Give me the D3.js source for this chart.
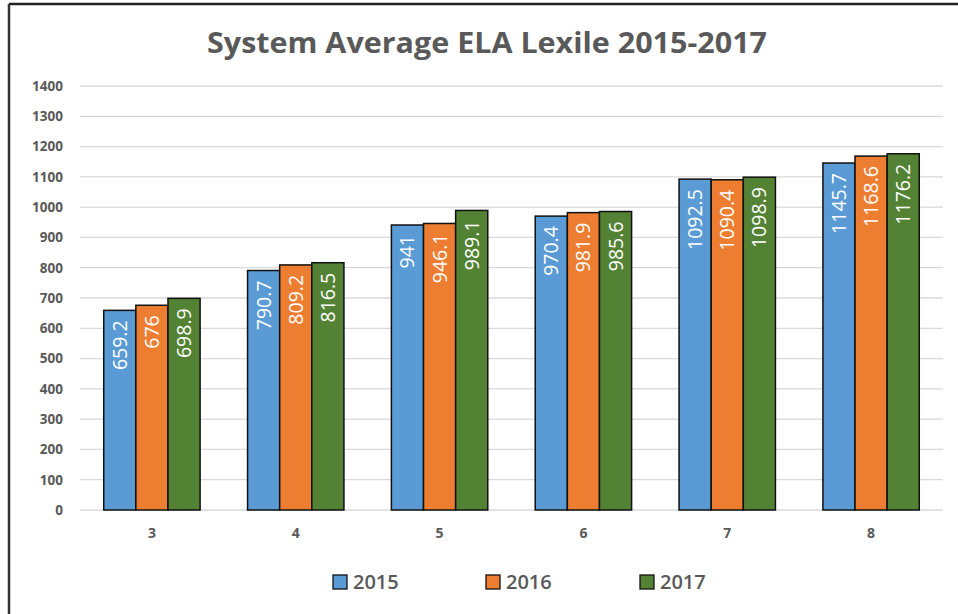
<!DOCTYPE html>
<html>
<head>
<meta charset="utf-8">
<script src="https://cdn.jsdelivr.net/npm/d3@7"></script>
<style>
  body { margin: 0; background: #fff; }
  svg { display: block; }
</style>
</head>
<body>
<svg id="chart"></svg>
<script>
// grades on the x axis
var grades = ['3', '4', '5', '6', '7', '8'];
var years = ['2015', '2016', '2017'];
var values2015 = [659.2, 790.7, 941, 970.4, 1092.5, 1145.7];
var values2016 = [676, 809.2, 946.1, 981.9, 1090.4, 1168.6];
var values2017 = [698.9, 816.5, 989.1, 985.6, 1098.9, 1176.2];
var yTicks = [0, 100, 200, 300, 400, 500, 600, 700, 800, 900, 1000, 1100, 1200, 1300, 1400];
var colors = ['#5B9BD5', '#ED7D31', '#548235'];

var width = 958, height = 614;
var margin = { top: 86, right: 15, bottom: 104, left: 80 };

var svg = d3.select('#chart').attr('width', width).attr('height', height);

// frame (only top and left edges show in the picture)
svg.append('line').attr('x1', 9).attr('x2', width).attr('y1', 4).attr('y2', 4)
  .attr('stroke', '#222').attr('stroke-width', 2.5);
svg.append('line').attr('x1', 9).attr('x2', 9).attr('y1', 4).attr('y2', height)
  .attr('stroke', '#333').attr('stroke-width', 2.5);

svg.append('text')
  .attr('x', 487).attr('y', 53)
  .attr('text-anchor', 'middle')
  .attr('font-family', 'Open Sans, sans-serif')
  .attr('font-weight', 700)
  .attr('font-size', 29)
  .attr('fill', '#595959')
  .attr('textLength', 560)
  .attr('lengthAdjust', 'spacingAndGlyphs')
  .text('System Average ELA Lexile 2015-2017');

var x = d3.scaleBand().domain(grades).range([margin.left, width - margin.right]).paddingInner(0.33).paddingOuter(0.165);
var xOuter = d3.scaleBand().domain(grades).range([margin.left, width - margin.right]);
var xInner = d3.scaleBand().domain(years).range([0, x.bandwidth()]);
var y = d3.scaleLinear().domain([0, 1400]).range([height - margin.bottom, margin.top]);

var g = svg.append('g');

// gridlines
g.selectAll('line.grid').data(yTicks).enter().append('line')
  .attr('class', 'grid')
  .attr('x1', margin.left).attr('x2', width - margin.right)
  .attr('y1', function(d) { return y(d); }).attr('y2', function(d) { return y(d); })
  .attr('stroke', '#d9d9d9').attr('stroke-width', 1.3);

// y axis labels
var yAxis = g.append('g').attr('transform', 'translate(' + margin.left + ',0)')
  .call(d3.axisLeft(y).tickValues(yTicks).tickFormat(d3.format('d')).tickSize(0).tickPadding(17));
yAxis.select('.domain').remove();
yAxis.selectAll('text')
  .attr('font-family', 'Open Sans, sans-serif').attr('font-weight', 700)
  .attr('font-size', 13.5).attr('fill', '#595959');

// x axis labels
var xAxis = g.append('g').attr('transform', 'translate(0,' + (height - margin.bottom) + ')')
  .call(d3.axisBottom(xOuter).tickSize(0).tickPadding(18));
xAxis.select('.domain').remove();
xAxis.selectAll('text')
  .attr('font-family', 'Open Sans, sans-serif').attr('font-weight', 700)
  .attr('font-size', 14).attr('fill', '#595959');

var series = [values2015, values2016, values2017];
var rows = [];
grades.forEach(function(gr, i) {
  years.forEach(function(yr, j) {
    rows.push({ grade: gr, year: yr, value: series[j][i], color: colors[j] });
  });
});

var bars = g.selectAll('g.bar').data(rows).enter().append('g')
  .attr('class', 'bar')
  .attr('transform', function(d) { return 'translate(' + (x(d.grade) + xInner(d.year)) + ',0)'; });

bars.append('rect')
  .attr('x', 0)
  .attr('y', function(d) { return y(d.value); })
  .attr('width', xInner.bandwidth())
  .attr('height', function(d) { return y(0) - y(d.value); })
  .attr('fill', function(d) { return d.color; })
  .attr('stroke', '#111').attr('stroke-width', 1.5);

bars.append('text')
  .attr('transform', function(d) {
    return 'translate(' + (xInner.bandwidth() / 2 + 7) + ',' + (y(d.value) + 10) + ') rotate(-90)';
  })
  .attr('text-anchor', 'end')
  .attr('font-family', 'Open Sans, sans-serif')
  .attr('font-size', 19.5)
  .attr('fill', '#fff')
  .text(function(d) { return d.value; });

// legend
var legendX = [333, 486, 640];
var legend = svg.selectAll('g.legend').data(years).enter().append('g')
  .attr('class', 'legend')
  .attr('transform', function(d, i) { return 'translate(' + legendX[i] + ',575)'; });
legend.append('rect').attr('width', 14).attr('height', 14)
  .attr('fill', function(d, i) { return colors[i]; })
  .attr('stroke', '#111').attr('stroke-width', 1.3);
legend.append('text').attr('x', 20).attr('y', 14)
  .attr('font-family', 'Open Sans, sans-serif').attr('font-weight', 600)
  .attr('font-size', 20).attr('fill', '#595959')
  .text(function(d) { return d; });
</script>
</body>
</html>
